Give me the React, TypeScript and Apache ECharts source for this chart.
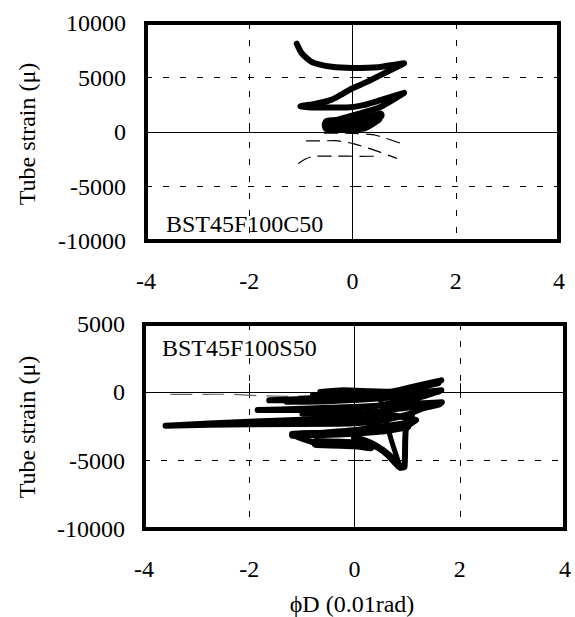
import React, { useEffect, useRef } from 'react';
import * as echarts from 'echarts';

// Axis set-up shared by both panels
const xRange = [-4, 4];
const xInterval = 2;
const topYRange = [-10000, 10000];
const bottomYRange = [-10000, 5000];
const yInterval = 5000;

const topLabel = 'BST45F100C50';
const bottomLabel = 'BST45F100S50';
const yTitle = 'Tube strain (μ)';
const xTitle = 'ϕD (0.01rad)';

// BST45F100C50 — main gauge, rotation vs strain
const c50Main = [
  [-1.08, 8100], [-0.98, 7200], [-0.78, 6400], [-0.4, 5980], [0.0, 5880], [0.5, 5950], [1.0, 6300],
  [0.73, 5665], [0.28, 4595], [-0.01, 3990], [-0.24, 3375], [-0.43, 2918], [-0.755, 2550], [-1.01, 2368],
  [-0.755, 2250], [-0.43, 2250], [-0.11, 2250], [0.21, 2460], [0.54, 2918], [1.0, 3590],
  [0.54, 2300], [0.15, 1700], [-0.43, 930], [-0.52, 700],
];
// small cycles packed near the origin
const c50Core = [
  [-0.52, 700], [-0.5, 350], [0.0, 250], [0.3, 600], [0.54, 1500], [0.2, 1250], [-0.2, 1000],
  [-0.5, 650], [-0.45, 300], [0.05, 350], [0.35, 800], [0.54, 1600], [0.1, 1100], [-0.5, 900],
  [-0.5, 450], [0.2, 400], [0.5, 1200], [0.3, 1000], [-0.1, 800], [-0.45, 600], [0.0, 600],
  [0.3, 900], [0.5, 1400],
];
// secondary gauges (thin dashed)
const c50ThinA = [[-0.55, -100], [0.0, -130], [0.45, -300], [1.0, -1150]];
const c50ThinB = [[-0.9, -820], [-0.33, -800], [0.0, -1050], [0.38, -1600], [0.86, -2420]];
const c50ThinC = [[-1.05, -2880], [-0.9, -2450], [-0.75, -2230], [-0.3, -2210], [0.1, -2230], [0.55, -2220]];

// BST45F100S50 — main gauge
const s50Main = [
  [-0.65, 30], [-0.2, 150], [0.3, 80], [0.67, 45], [1.0, 300], [1.35, 620], [1.65, 880],
  [1.3, 400], [0.98, 20], [0.5, -250], [0.1, -300], [-0.6, -420], [-1.62, -580],
  [-1.0, -560], [-0.3, -420], [0.3, -300], [0.9, -120], [1.3, 20], [1.65, 150],
  [1.35, -250], [0.98, -560], [0.35, -1050], [-0.29, -1250], [-1.0, -1300], [-1.84, -1300],
  [-1.0, -1200], [0.1, -1050], [0.6, -950], [1.2, -820], [1.66, -720], [1.6, -900],
  [1.3, -1170], [0.98, -1660], [0.35, -2150], [-0.29, -2300], [-2.0, -2330], [-3.59, -2440],
  [-2.0, -2150], [-1.0, -2000], [0.1, -1785], [0.54, -1540], [0.9, -1800], [1.17, -2030],
  [0.9, -2300], [0.5, -2500], [0.03, -2760], [-0.6, -2950], [-1.17, -3100],
  [-0.73, -3700], [0.0, -3850], [0.1, -3540], [0.54, -4220], [0.76, -5120], [0.87, -5520],
  [0.95, -5450], [0.98, -2630], [1.17, -2030],
];
// later cycles overlapping the main loops
const s50Extra1 = [[-1.3, -720], [-0.5, -680], [0.3, -520], [1.0, -300], [1.6, 20]];
const s50Extra2 = [[-1.0, -1600], [0.0, -1550], [0.7, -1300], [1.3, -1000], [1.62, -780]];
const s50Extra3 = [[-0.8, -200], [0.0, -80], [0.6, -100], [1.2, 300], [1.6, 650]];
const s50Extra4 = [[-0.9, -2150], [0.0, -2050], [0.6, -1900], [1.1, -1700]];
const s50Diagonal = [[0.87, -5500], [0.7, -3500], [0.58, -1800], [0.48, -320]];
const s50Wedge = [[0.0, -3300], [0.35, -3800], [0.65, -4600], [0.87, -5450]];
const s50BandUpper = [[-1.17, -3100], [-0.6, -3050], [0.0, -2950], [0.5, -2800], [1.0, -2500]];
const s50BandLower = [[-0.73, -3700], [0.0, -3800], [0.3, -3950]];
const s50Thin = [[-3.5, -150], [-2.6, -140], [-2.3, -150], [-1.8, -250], [-1.2, -300], [-0.7, -200]];

const FONT = '"Liberation Serif", "Times New Roman", serif';

function thick(data: number[][], xi: number, yi: number, width = 6) {
  return {
    type: 'line',
    xAxisIndex: xi,
    yAxisIndex: yi,
    data,
    symbol: 'none',
    smooth: 0.2,
    silent: true,
    z: 3,
    lineStyle: { color: '#000', width, cap: 'round', join: 'round' },
  };
}

function thin(data: number[][], xi: number, yi: number, color = '#000', dash: number[] = [14, 7]) {
  return {
    type: 'line',
    xAxisIndex: xi,
    yAxisIndex: yi,
    data,
    symbol: 'none',
    smooth: 0.2,
    silent: true,
    z: 3,
    lineStyle: { color, width: 1.2, type: dash },
  };
}

const plain = (v: number) => String(v);
const labelText = { fontSize: 24, fontFamily: FONT, fontWeight: 'normal', color: '#000' };

function zeroXAxis(grid: number) {
  return {
    gridIndex: grid, type: 'value', min: xRange[0], max: xRange[1], interval: xInterval,
    axisLine: { show: true, onZero: true, lineStyle: { color: '#000', width: 1 } },
    axisTick: { show: true, inside: true, length: 9, lineStyle: { color: '#000', width: 1 } },
    axisLabel: { show: false },
    splitLine: { show: true, lineStyle: { color: '#000', width: 1, type: [6, 11] } },
  };
}
function labelXAxis(grid: number) {
  return {
    gridIndex: grid, type: 'value', min: xRange[0], max: xRange[1], interval: xInterval,
    position: 'bottom',
    axisLine: { show: false, onZero: false },
    axisTick: { show: false },
    axisLabel: { show: true, margin: 28, ...labelText, formatter: plain },
    splitLine: { show: false },
  };
}
function zeroYAxis(grid: number, range: number[]) {
  return {
    gridIndex: grid, type: 'value', min: range[0], max: range[1], interval: yInterval,
    axisLine: { show: true, onZero: true, lineStyle: { color: '#000', width: 1 } },
    axisTick: { show: true, inside: true, length: 9, lineStyle: { color: '#000', width: 1 } },
    axisLabel: { show: false },
    splitLine: { show: true, lineStyle: { color: '#000', width: 1, type: [6, 11] } },
  };
}
function labelYAxis(grid: number, range: number[], margin: number) {
  return {
    gridIndex: grid, type: 'value', min: range[0], max: range[1], interval: yInterval,
    position: 'left',
    axisLine: { show: false, onZero: false },
    axisTick: { show: false },
    axisLabel: { show: true, margin, ...labelText, formatter: plain },
    splitLine: { show: false },
  };
}

export default function App() {
  const ref = useRef<HTMLDivElement>(null);
  useEffect(() => {
    if (!ref.current) return;
    const chart = echarts.init(ref.current, undefined, { renderer: 'svg' });
    const textStyle = (text: string) => ({ text, font: `24px ${FONT}`, fill: '#000' });
    chart.setOption({
      animation: false,
      backgroundColor: '#fff',
      textStyle: { fontFamily: FONT, fontSize: 24, color: '#000' },
      grid: [
        { left: 146, top: 23, width: 413, height: 218, show: true, borderColor: '#000', borderWidth: 4, backgroundColor: 'transparent' },
        { left: 144, top: 324, width: 421, height: 205, show: true, borderColor: '#000', borderWidth: 4, backgroundColor: 'transparent' },
      ],
      xAxis: [zeroXAxis(0), labelXAxis(0), zeroXAxis(1), labelXAxis(1)],
      yAxis: [zeroYAxis(0, topYRange), labelYAxis(0, topYRange, 20), zeroYAxis(1, bottomYRange), labelYAxis(1, bottomYRange, 19)],
      series: [
        thin(c50ThinA, 0, 0),
        thin(c50ThinB, 0, 0),
        thin(c50ThinC, 0, 0),
        thick(c50Main, 0, 0, 6),
        thick(c50Core, 0, 0, 8),
        thin(s50Thin, 2, 2, '#666', [22, 10]),
        thick(s50Main, 2, 2, 6),
        thick(s50Extra1, 2, 2, 5),
        thick(s50Extra2, 2, 2, 5),
        thick(s50Extra3, 2, 2, 5),
        thick(s50Extra4, 2, 2, 5),
        thick(s50Diagonal, 2, 2, 5),
        thick(s50Wedge, 2, 2, 7),
        thick(s50BandUpper, 2, 2, 8),
        thick(s50BandLower, 2, 2, 10),
      ],
      graphic: [
        { type: 'text', x: 27, y: 134, rotation: Math.PI / 2, style: { ...textStyle(yTitle), align: 'center', verticalAlign: 'middle' } },
        { type: 'text', x: 27, y: 427, rotation: Math.PI / 2, style: { ...textStyle(yTitle), align: 'center', verticalAlign: 'middle' } },
        { type: 'text', x: 352, y: 604, style: { ...textStyle(xTitle), align: 'center', verticalAlign: 'middle' } },
        { type: 'text', x: 166, y: 224, z: 10, style: { ...textStyle(topLabel), align: 'left', verticalAlign: 'middle' } },
        { type: 'text', x: 162, y: 348, z: 10, style: { ...textStyle(bottomLabel), align: 'left', verticalAlign: 'middle' } },
      ],
    });
    return () => chart.dispose();
  }, []);
  return <div ref={ref} style={{ position: 'fixed', left: 0, top: 0, width: 575, height: 617 }} />;
}
